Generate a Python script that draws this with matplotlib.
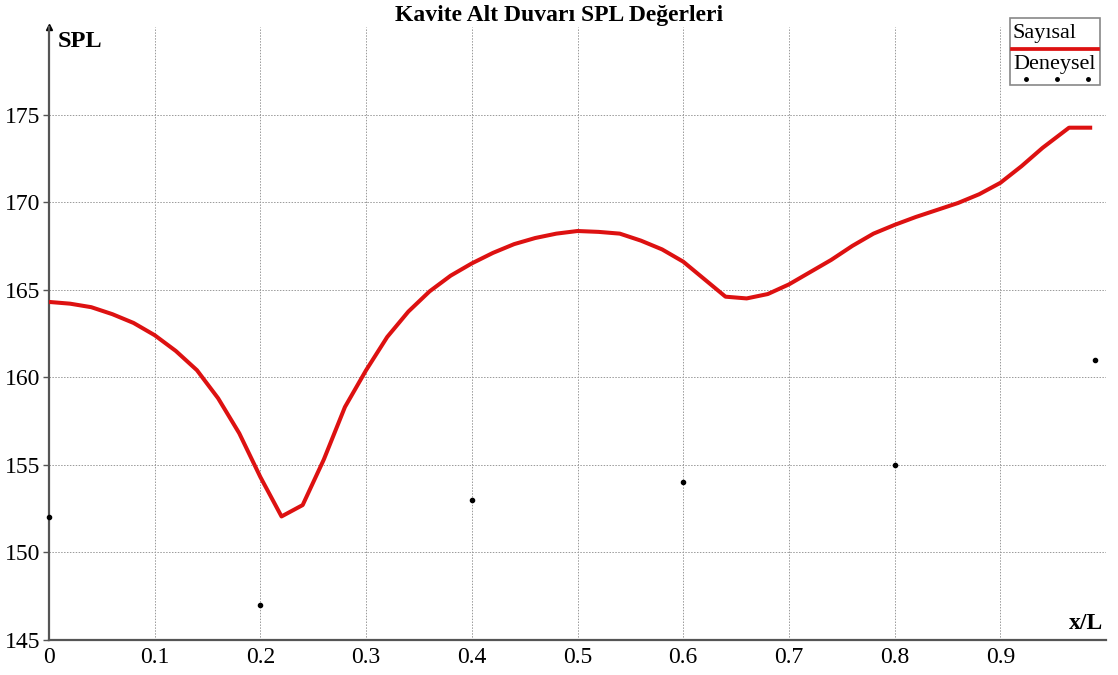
import matplotlib.pyplot as plt
from matplotlib.patches import Rectangle
from matplotlib.lines import Line2D

plt.rcParams['font.family'] = ['Liberation Serif', 'DejaVu Serif']

# sayisal cozum (x/L, SPL)
x_num = [0.00, 0.02, 0.04, 0.06, 0.08, 0.10, 0.12, 0.14, 0.16, 0.18,
         0.20, 0.22, 0.24, 0.26, 0.28, 0.30, 0.32, 0.34, 0.36, 0.38,
         0.40, 0.42, 0.44, 0.46, 0.48, 0.50, 0.52, 0.54, 0.56, 0.58,
         0.60, 0.62, 0.64, 0.66, 0.68, 0.70, 0.72, 0.74, 0.76, 0.78,
         0.80, 0.82, 0.84, 0.86, 0.88, 0.90, 0.92, 0.94, 0.965, 0.985]
spl_num = [164.3, 164.2, 164.0, 163.6, 163.1, 162.4, 161.5, 160.4, 158.8, 156.8,
           154.3, 152.05, 152.7, 155.3, 158.3, 160.4, 162.3, 163.75, 164.9, 165.8,
           166.5, 167.1, 167.6, 167.95, 168.2, 168.35, 168.3, 168.2, 167.8, 167.3,
           166.6, 165.6, 164.6, 164.5, 164.75, 165.3, 166.0, 166.7, 167.5, 168.2,
           168.7, 169.15, 169.55, 169.95, 170.45, 171.1, 172.05, 173.1, 174.25, 174.25]

# deney olcumleri
x_exp = [0.0, 0.2, 0.4, 0.6, 0.8, 0.99]
spl_exp = [152, 147, 153, 154, 155, 161]

xticks = [0, 0.1, 0.2, 0.3, 0.4, 0.5, 0.6, 0.7, 0.8, 0.9]
xtick_labels = ['0', '0.1', '0.2', '0.3', '0.4', '0.5', '0.6', '0.7', '0.8', '0.9']
yticks = [145, 150, 155, 160, 165, 170, 175]

fig = plt.figure(figsize=(11.18, 6.75), dpi=100)
ax = fig.add_axes([0.0438, 0.052, 0.9455, 0.908])

red = '#dd1111'
axis_col = '#555555'

ax.plot(x_num, spl_num, color=red, lw=2.9, zorder=3)
ax.plot(x_exp, spl_exp, 'o', color='black', ms=3, zorder=4, clip_on=False)

ax.set_xlim(0, 1.0)
ax.set_ylim(145, 180)
ax.set_xticks(xticks)
ax.set_xticklabels(xtick_labels)
ax.set_yticks(yticks)
ax.tick_params(axis='x', length=0, pad=5, labelsize=17)
ax.tick_params(axis='y', length=4, width=1, color=axis_col, pad=2, labelsize=17)

ax.grid(True, color='#999999', lw=0.7, ls=(0, (1.5, 1.5)))
ax.set_axisbelow(True)

for side in ['top', 'right']:
    ax.spines[side].set_visible(False)
for side in ['left', 'bottom']:
    ax.spines[side].set_color(axis_col)
    ax.spines[side].set_linewidth(1.6)

# eksen oklari
ax.plot(1.0, 0, marker=(3, 0, -90), color='black', ms=5,
        transform=ax.get_yaxis_transform(), clip_on=False)
ax.plot(0, 1.0, marker='^', color='black', ms=4,
        transform=ax.get_xaxis_transform(), clip_on=False)

ax.text(0.008, 0.976, 'SPL', transform=ax.transAxes, fontsize=17.5,
        fontweight='bold', ha='left', va='center')
ax.text(0.997, 0.026, 'x/L', transform=ax.transAxes, fontsize=17,
        fontweight='bold', ha='right', va='center')

fig.text(0.5, 0.977, 'Kavite Alt Duvarı SPL Değerleri', fontsize=17,
         fontweight='bold', ha='center', va='center')

# lejant: isaretler yazilarin altinda
fig.patches.append(Rectangle((0.903, 0.874), 0.081, 0.099, transform=fig.transFigure,
                             facecolor='white', edgecolor='#888888', lw=1.2))
fig.text(0.906, 0.950, 'Sayısal', fontsize=16, ha='left', va='center')
fig.lines.append(Line2D([0.905, 0.982], [0.927, 0.927], transform=fig.transFigure,
                        color=red, lw=2.7))
fig.text(0.906, 0.904, 'Deneysel', fontsize=16, ha='left', va='center')
fig.lines.append(Line2D([0.9175, 0.9455, 0.9735], [0.883, 0.883, 0.883],
                        transform=fig.transFigure, ls='none', marker='o',
                        color='black', ms=2.5))

fig.savefig('out.png', dpi=100)
